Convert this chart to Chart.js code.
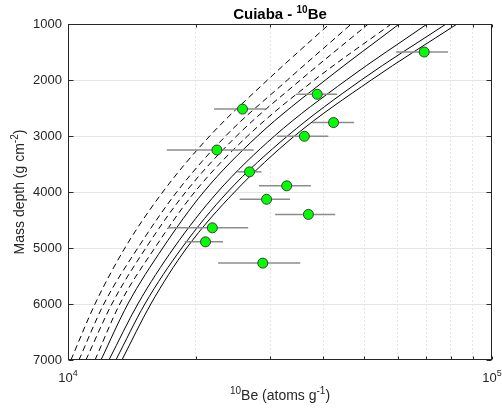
<!DOCTYPE html>
<html>
<head>
<meta charset="utf-8">
<script src="https://cdn.jsdelivr.net/npm/chart.js@4"></script>
<style>
  html, body { margin: 0; padding: 0; background: #fff; }
</style>
</head>
<body>
<canvas id="chart" width="502" height="409"></canvas>
<script>
// depth levels (g cm-2) at which the model curves are tabulated
const depthLevels = [7000, 6000, 5000, 4000, 3000, 2000, 1000];

// modelled 10Be concentrations (atoms g-1) along each profile
const dashedModels = [
  [10160, 11580, 13620, 16730, 21590, 29550, 41350],
  [10610, 12150, 14610, 18050, 23540, 32930, 46580],
  [11020, 12690, 15260, 18950, 24980, 35340, 51080],
  [11580, 13250, 16020, 19900, 26520, 38130, 57870],
];
const solidModels = [
  [11960, 13840, 16730, 20890, 28000, 40470, 60420],
  [12490, 14610, 17760, 22540, 30690, 45340, 70330],
  [12970, 15180, 18550, 23790, 32930, 49180, 77940],
  [13400, 15680, 19050, 24710, 34210, 51910, 82720],
];

// measured samples
const sampleBe = [69200, 38700, 42300, 36100, 25800, 22450, 26800, 29400, 32800, 36900, 21900, 21100, 28800];
const sampleDepth = [1500, 2255, 2760, 3005, 2520, 3250, 3640, 4130, 3890, 4400, 4640, 4890, 5270];
const sampleLow = [59400, 34500, 37600, 31100, 22100, 17100, 25100, 25400, 28200, 30800, 17200, 18850, 22600];
const sampleHigh = [78800, 43100, 47300, 41100, 29400, 27400, 28600, 33400, 37400, 42700, 26600, 23200, 35300];

const depthTicks = [1000, 2000, 3000, 4000, 5000, 6000, 7000];
const beTicks = [10000, 20000, 30000, 40000, 50000, 60000, 70000, 80000, 90000, 100000];

const FONT = '"Liberation Sans", Arial, Helvetica, sans-serif';
const AXIS = '#262626';
const GRID = '#e6e6e6';

function curveSet(list, dash) {
  return list.map(vals => ({
    data: vals.map((v, i) => ({ x: v, y: depthLevels[i] })),
    borderColor: '#000',
    borderWidth: 1,
    borderDash: dash,
    pointRadius: 0,
    cubicInterpolationMode: 'monotone',
    fill: false,
    order: 3,
  }));
}

const errorBars = sampleBe.map((_, i) => ({
  data: [{ x: sampleLow[i], y: sampleDepth[i] }, { x: sampleHigh[i], y: sampleDepth[i] }],
  borderColor: '#8c8c8c',
  borderWidth: 1.5,
  pointRadius: 0,
  fill: false,
  order: 2,
}));

const samples = {
  data: sampleBe.map((v, i) => ({ x: v, y: sampleDepth[i] })),
  showLine: false,
  pointRadius: 5,
  pointBackgroundColor: '#00ff00',
  pointBorderColor: '#3c3c3c',
  pointBorderWidth: 1,
  order: 1,
};

// draw text runs with superscripts: parts = [[text, size, raise], ...]
function richText(ctx, parts, x, y, bold, align) {
  const w = parts.reduce((s, p) => {
    ctx.font = (bold ? 'bold ' : '') + p[1] + 'px ' + FONT;
    return s + ctx.measureText(p[0]).width;
  }, 0);
  let cx = align === 'center' ? x - w / 2 : x;
  ctx.textAlign = 'left';
  ctx.textBaseline = 'alphabetic';
  parts.forEach(p => {
    ctx.font = (bold ? 'bold ' : '') + p[1] + 'px ' + FONT;
    ctx.fillText(p[0], cx, y - p[2]);
    cx += ctx.measureText(p[0]).width;
  });
}

const decorations = {
  id: 'decorations',
  afterDraw(chart) {
    const { ctx, chartArea: a, scales } = chart;
    const xs = scales.x, ys = scales.y;
    const L = Math.round(a.left) + 0.5, R = Math.round(a.right) - 0.5;
    const T = Math.round(a.top) + 0.5, B = Math.round(a.bottom) - 0.5;
    ctx.save();
    ctx.strokeStyle = AXIS;
    ctx.lineWidth = 1;
    ctx.beginPath();
    depthTicks.forEach(v => {
      const py = Math.round(ys.getPixelForValue(v)) + 0.5;
      ctx.moveTo(L, py); ctx.lineTo(L + 5, py);
      ctx.moveTo(R, py); ctx.lineTo(R - 5, py);
    });
    beTicks.forEach(v => {
      const px = Math.round(xs.getPixelForValue(v)) + 0.5;
      ctx.moveTo(px, B); ctx.lineTo(px, B - 3);
      ctx.moveTo(px, T); ctx.lineTo(px, T + 3);
    });
    ctx.stroke();
    ctx.strokeRect(L, T, R - L, B - T);

    ctx.fillStyle = AXIS;
    // x tick labels (decades)
    [[10000, '4'], [100000, '5']].forEach(([v, e]) => {
      const px = xs.getPixelForValue(v);
      richText(ctx, [['10', 13, 0], [e, 9, 6]], px, 382, false, 'center');
    });

    // title
    ctx.fillStyle = '#000';
    const cx = (a.left + a.right) / 2;
    richText(ctx, [['Cuiaba - ', 15, 0], ['10', 10, 6], ['Be', 15, 0]], cx, 19, true, 'center');

    // axis titles
    ctx.fillStyle = AXIS;
    richText(ctx, [['10', 10, 6], ['Be (atoms g', 14, 0], ['-1', 10, 6], [')', 14, 0]], cx, 400, false, 'center');
    ctx.translate(24, (a.top + a.bottom) / 2);
    ctx.rotate(-Math.PI / 2);
    richText(ctx, [['Mass depth (g cm', 14, 0], ['-2', 10, 6], [')', 14, 0]], 0, 0, false, 'center');
    ctx.restore();
  },
};

new Chart(document.getElementById('chart'), {
  type: 'line',
  data: {
    datasets: [...curveSet(dashedModels, [6, 4]), ...curveSet(solidModels, []), ...errorBars, samples],
  },
  options: {
    responsive: false,
    animation: false,
    layout: { padding: { top: 24, right: 10, left: 0, bottom: 0 } },
    plugins: { legend: { display: false }, tooltip: { enabled: false }, title: { display: false } },
    scales: {
      x: {
        type: 'logarithmic',
        min: 10000,
        max: 100000,
        afterBuildTicks: scale => { scale.ticks = beTicks.map(v => ({ value: v })); },
        afterFit: scale => { scale.height = 49; },
        ticks: { display: false },
        grid: {
          color: ctx => (ctx.tick && (ctx.tick.value === 10000 || ctx.tick.value === 100000)) ? 'rgba(0,0,0,0)' : GRID,
          drawTicks: false,
        },
        border: { display: false, dash: [2, 2] },
      },
      y: {
        reverse: true,
        min: 1000,
        max: 7000,
        afterBuildTicks: scale => { scale.ticks = depthTicks.map(v => ({ value: v })); },
        afterFit: scale => { scale.width = 68; },
        ticks: {
          color: AXIS,
          padding: 6,
          font: { family: FONT, size: 13 },
          callback: v => String(v),
        },
        grid: {
          color: ctx => (ctx.tick && (ctx.tick.value === 1000 || ctx.tick.value === 7000)) ? 'rgba(0,0,0,0)' : GRID,
          drawTicks: false,
          lineWidth: 1,
        },
        border: { display: false },
      },
    },
  },
  plugins: [decorations],
});
</script>
</body>
</html>
